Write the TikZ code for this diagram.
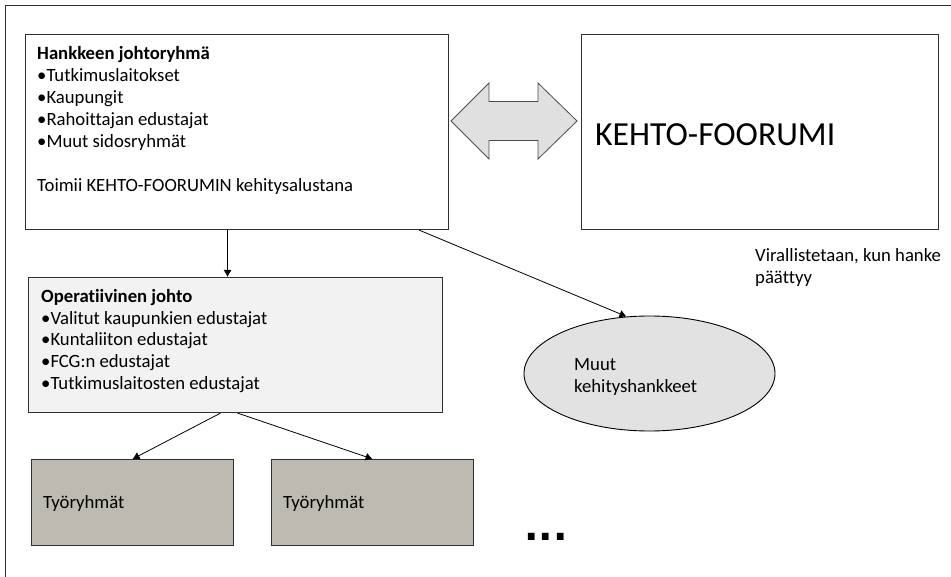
\documentclass[tikz,border=0pt]{standalone}
\usepackage{fontspec}
\setmainfont{Carlito}[Ligatures=NoCommon]
\newfontfamily\dotfont{DejaVu Sans}
\usetikzlibrary{arrows.meta,shapes.geometric}
\definecolor{edge}{HTML}{303030}
\definecolor{opfill}{HTML}{F2F2F2}
\definecolor{wgfill}{HTML}{BDBAB2}
\definecolor{ovfill}{HTML}{E2E2E2}
\definecolor{dafill}{HTML}{E0E0E0}
\tikzset{
  panel/.style={draw=edge, line width=1.1pt, rectangle, inner sep=0pt, anchor=north west},
  % multi-line texts are placed by the baseline of their last line
  body/.style={font=\fontsize{18.7}{22}\selectfont, align=left, inner sep=0pt, anchor=base west},
  link/.style={draw=black, line width=0.8pt, -{Latex[length=7pt,width=8pt]}},
}
\begin{document}
\begin{tikzpicture}[x=1pt,y=-1pt]
  \useasboundingbox (0,0) rectangle (951,577);
  % outer frame (top and left edges)
  \draw[edge, line width=1pt] (951,6) -- (5,6) -- (5,577);

  % steering group
  \node[panel, minimum width=423pt, minimum height=195pt] (A) at (25,34) {};
  \node[body] (At) at (37,192) {\textbf{Hankkeen johtoryhmä}\\
    •Tutkimuslaitokset\\
    •Kaupungit\\
    •Rahoittajan edustajat\\
    •Muut sidosryhmät\\[22pt]
    Toimii KEHTO-FOORUMIN kehitysalustana};

  % forum
  \node[panel, minimum width=357pt, minimum height=195pt] (B) at (581,34) {};
  \node[font=\fontsize{33.7}{40}\selectfont, inner sep=0pt, anchor=base west] (Bt) at (595,146) {KEHTO-FOORUMI};
  \node[body] (note) at (755,284) {Virallistetaan, kun hanke\\päättyy};

  % two-way block arrow between the steering group and the forum
  \draw[draw=black!70, fill=dafill, line width=0.8pt]
    (451,121) -- (489,83) -- (489,101.5) -- (538,101.5) -- (538,83) -- (577,121)
    -- (538,159) -- (538,140.5) -- (489,140.5) -- (489,159) -- cycle;

  % operative management
  \node[panel, fill=opfill, minimum width=414pt, minimum height=135pt] (E) at (28,277) {};
  \node[body] (Et) at (41,390) {\textbf{Operatiivinen johto}\\
    •Valitut kaupunkien edustajat\\
    •Kuntaliiton edustajat\\
    •FCG:n edustajat\\
    •Tutkimuslaitosten edustajat};

  % working groups
  \node[panel, fill=wgfill, minimum width=202pt, minimum height=86pt] (F1) at (31,459) {};
  \node[body] (F1t) at (43,508) {Työryhmät};
  \node[panel, fill=wgfill, minimum width=202pt, minimum height=86pt] (F2) at (271,459) {};
  \node[body] (F2t) at (283,508) {Työryhmät};
  \node[font=\fontsize{38}{44}\dotfont\bfseries, inner sep=0pt, anchor=base west] (dots) at (524,540) {...};

  % other development projects
  \node[ellipse, draw=black, line width=0.9pt, fill=ovfill, minimum width=251pt, minimum height=115pt, inner sep=0pt] (G) at (649.5,373.5) {};
  \node[body] (Gt) at (574,392) {Muut\\kehityshankkeet};

  % connectors
  \draw[link] ([xshift=-9.5pt]A.south) -- ([xshift=-9.5pt]A.south |- E.north);
  \draw[link] ([xshift=-30pt]A.south east) -- (G.112);
  \draw[link] ([xshift=-15pt]E.south) -- (F1.north);
  \draw[link] ([xshift=2pt]E.south) -- (F2.north);
\end{tikzpicture}
\end{document}
